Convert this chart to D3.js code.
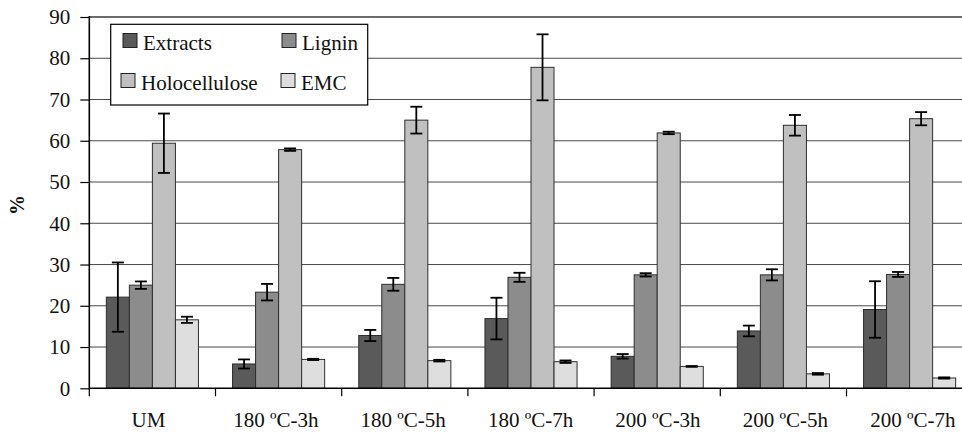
<!DOCTYPE html>
<html>
<head>
<meta charset="utf-8">
<script src="https://cdn.jsdelivr.net/npm/d3@7"></script>
<style>
  html, body { margin: 0; padding: 0; background: #fff; }
  svg { display: block; }
  svg text { font-family: "Liberation Serif", "Times New Roman", "DejaVu Serif", serif; }
</style>
</head>
<body>
<svg id="canvas" width="962" height="432"></svg>
<script>
"use strict"

// data
const categories = ["UM", "180 ºC-3h", "180 ºC-5h", "180 ºC-7h", "200 ºC-3h", "200 ºC-5h", "200 ºC-7h"]
const seriesNames = ["Extracts", "Lignin", "Holocellulose", "EMC"]

const extracts      = [22.1, 5.9, 12.8, 16.9, 7.75, 13.9, 19.1]
const extractsErr   = [8.4, 1.1, 1.35, 5.05, 0.55, 1.3, 6.85]
const lignin        = [25.0, 23.3, 25.2, 26.9, 27.5, 27.5, 27.6]
const ligninErr     = [0.9, 2.0, 1.55, 1.1, 0.4, 1.35, 0.6]
const holocellulose = [59.4, 57.85, 65.0, 77.8, 61.9, 63.75, 65.35]
const holoErr       = [7.2, 0.3, 3.25, 8.0, 0.3, 2.5, 1.6]
const emc           = [16.6, 7.0, 6.7, 6.45, 5.3, 3.5, 2.5]
const emcErr        = [0.75, 0.15, 0.2, 0.3, 0.1, 0.2, 0.15]

const yTicks = [0, 10, 20, 30, 40, 50, 60, 70, 80, 90]

const colors = { "Extracts": "#5a5a5a", "Lignin": "#8c8c8c", "Holocellulose": "#c0c0c0", "EMC": "#dedede" }

const values = { "Extracts": extracts, "Lignin": lignin, "Holocellulose": holocellulose, "EMC": emc }
const errors = { "Extracts": extractsErr, "Lignin": ligninErr, "Holocellulose": holoErr, "EMC": emcErr }

const FONT = '"Liberation Serif", "Times New Roman", "DejaVu Serif", serif'

const $ = {
  left: 89.3,
  top: 17,
  bottom: 388.3,
  step: 126.2,
}

const svg = d3.select("#canvas")

const x0 = d3.scaleBand()
  .domain(categories)
  .range([$.left, $.left + $.step * categories.length])
  .padding(0)

const x1 = d3.scaleBand()
  .domain(seriesNames)
  .range([0, x0.bandwidth()])
  .paddingInner(0)
  .paddingOuter(0.74)

const y = d3.scaleLinear()
  .domain([0, 90])
  .range([$.bottom, $.top])

// gridlines
svg.append('g')
  .selectAll('line')
  .data(yTicks.filter(t => t > 0))
  .enter().append('line')
    .attr('x1', $.left)
    .attr('x2', 962)
    .attr('y1', t => y(t))
    .attr('y2', t => y(t))
    .attr('stroke', t => t == 90 ? "#3a3a3a" : "#4a4a4a")
    .attr('stroke-width', t => t == 90 ? 1.6 : 1)

// y axis
const yAxis = d3.axisLeft(y)
  .tickValues(yTicks)
  .tickSizeInner(9)
  .tickSizeOuter(0)
  .tickPadding(10)

const yg = svg.append('g')
  .attr('transform', `translate(${$.left},0)`)
  .call(yAxis)
  .attr('font-family', FONT)
  .attr('font-size', 21)
yg.select('.domain').remove()
yg.selectAll('.tick line').attr('stroke', '#000').attr('stroke-width', 1.2)
yg.selectAll('.tick text')
  .attr('font-family', FONT)
  .attr('font-size', 21)
  .attr('fill', '#111')

// bars
const rows = []
categories.forEach((c, i) => {
  seriesNames.forEach(s => {
    rows.push({ cat: c, series: s, value: values[s][i], err: errors[s][i] })
  })
})

svg.append('g')
  .selectAll('rect')
  .data(rows)
  .enter().append('rect')
    .attr('x', d => x0(d.cat) + x1(d.series))
    .attr('y', d => y(d.value))
    .attr('width', x1.bandwidth())
    .attr('height', d => y(0) - y(d.value))
    .attr('fill', d => colors[d.series])
    .attr('stroke', '#2e2e2e')
    .attr('stroke-width', 1)

// error bars
const eb = svg.append('g')
  .attr('stroke', '#000')
  .attr('stroke-width', 1.8)
  .selectAll('g')
  .data(rows)
  .enter().append('g')
    .attr('transform', d => `translate(${x0(d.cat) + x1(d.series) + x1.bandwidth() / 2},0)`)

eb.append('line')
  .attr('y1', d => y(d.value + d.err))
  .attr('y2', d => y(d.value - d.err))
eb.append('line')
  .attr('x1', -6).attr('x2', 6)
  .attr('y1', d => y(d.value + d.err))
  .attr('y2', d => y(d.value + d.err))
eb.append('line')
  .attr('x1', -6).attr('x2', 6)
  .attr('y1', d => y(d.value - d.err))
  .attr('y2', d => y(d.value - d.err))

// axis lines
svg.append('line')
  .attr('x1', $.left).attr('x2', $.left)
  .attr('y1', $.top - 1).attr('y2', $.bottom + 1)
  .attr('stroke', '#000').attr('stroke-width', 1.6)
svg.append('line')
  .attr('x1', $.left).attr('x2', 962)
  .attr('y1', $.bottom).attr('y2', $.bottom)
  .attr('stroke', '#000').attr('stroke-width', 1.6)

// category ticks at group boundaries
svg.append('g')
  .selectAll('line')
  .data(categories)
  .enter().append('line')
    .attr('x1', c => x0(c))
    .attr('x2', c => x0(c))
    .attr('y1', $.bottom)
    .attr('y2', $.bottom + 8)
    .attr('stroke', '#000')
    .attr('stroke-width', 1.2)

svg.append('g')
  .selectAll('text')
  .data(categories)
  .enter().append('text')
    .attr('x', (c, i) => x0(c) + x0.bandwidth() / 2 - 4 + i * 1.2)
    .attr('y', 427)
    .attr('text-anchor', 'middle')
    .attr('font-family', FONT)
    .attr('font-size', 21)
    .attr('fill', '#111')
    .text(c => c)

// y title
svg.append('text')
  .attr('transform', 'translate(24,205) rotate(-90)')
  .attr('text-anchor', 'middle')
  .attr('font-family', FONT)
  .attr('font-size', 20)
  .attr('font-weight', 'bold')
  .attr('fill', '#111')
  .text('%')

// legend
const legend = svg.append('g')
legend.append('rect')
  .attr('x', 110.7).attr('y', 24.3)
  .attr('width', 257).attr('height', 80.7)
  .attr('fill', '#fff')
  .attr('stroke', '#000')
  .attr('stroke-width', 1.2)

const legendPos = [
  { x: 123, y: 33.5 },
  { x: 282, y: 33.5 },
  { x: 121, y: 73.5 },
  { x: 281, y: 73.5 },
]

const items = legend.selectAll('g.item')
  .data(seriesNames)
  .enter().append('g')
    .attr('class', 'item')
    .attr('transform', (s, i) => `translate(${legendPos[i].x},${legendPos[i].y})`)

items.append('rect')
  .attr('width', 14).attr('height', 14)
  .attr('fill', s => colors[s])
  .attr('stroke', '#222')
  .attr('stroke-width', 1)

items.append('text')
  .attr('x', 20)
  .attr('y', 16)
  .attr('font-family', FONT)
  .attr('font-size', 21)
  .attr('fill', '#111')
  .text(s => s)
</script>
</body>
</html>
